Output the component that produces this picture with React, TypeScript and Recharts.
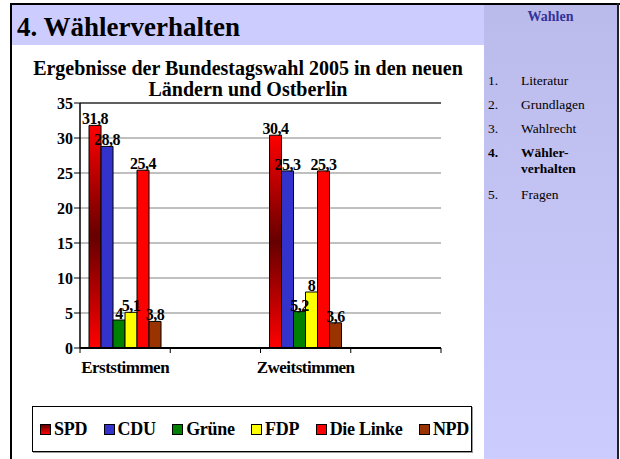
import React from 'react';
import { BarChart, Bar, XAxis, YAxis, CartesianGrid, LabelList, ReferenceLine } from 'recharts';

const categories = ['Erststimmen', '', 'Zweitstimmen', ''];
const parties = ['SPD', 'CDU', 'Grüne', 'FDP', 'Die Linke', 'NPD'];
const partyColors = ['url(#spdGrad)', '#3333CC', '#008000', '#FFFF00', '#FF0000', '#993300'];
const erststimmen = [31.8, 28.8, 4, 5.1, 25.4, 3.8];
const zweitstimmen = [30.4, 25.3, 5.2, 8, 25.3, 3.6];
const yTicks = [0, 5, 10, 15, 20, 25, 30, 35];
const slideTitle = '4. Wählerverhalten';
const chartTitle = ['Ergebnisse der Bundestagswahl 2005 in den neuen', 'Ländern und Ostberlin'];
const sideTitle = 'Wahlen';
const navItems = [
  { n: '1.', t: ['Literatur'], bold: false },
  { n: '2.', t: ['Grundlagen'], bold: false },
  { n: '3.', t: ['Wahlrecht'], bold: false },
  { n: '4.', t: ['Wähler-', 'verhalten'], bold: true },
  { n: '5.', t: ['Fragen'], bold: false },
];

const data = categories.map((c, i) => {
  const row: any = { name: c };
  const vals = i === 0 ? erststimmen : i === 2 ? zweitstimmen : null;
  parties.forEach((p, j) => {
    row['p' + j] = vals ? vals[j] : null;
  });
  return row;
});

const FONT = 'Liberation Serif';
const PLOT_L = 80;
const PLOT_R = 441;
const PLOT_T = 103;
const PLOT_B = 348;
const BAND = (PLOT_R - PLOT_L) / categories.length;

const XTick = (props: any) => {
  const { x, y, payload, index } = props;
  return (
    <g>
      <line x1={x - BAND / 2} x2={x - BAND / 2} y1={y} y2={y + 5} stroke="#000" strokeWidth={1} />
      {index === categories.length - 1 && (
        <line x1={x + BAND / 2} x2={x + BAND / 2} y1={y} y2={y + 5} stroke="#000" strokeWidth={1} />
      )}
      <text x={x} y={y + 25} textAnchor="middle" fontFamily={FONT} fontWeight="bold" fontSize={17} letterSpacing={-0.5} fill="#000">
        {payload.value}
      </text>
    </g>
  );
};

const fmt = (v: any) => (v === null || v === undefined ? '' : String(v).replace('.', ','));

export default function App() {
  return (
    <div style={{ position: 'absolute', left: 0, top: 0, width: 620, height: 459, background: '#fff', fontFamily: FONT, overflow: 'hidden' }}>
      {/* header bar */}
      <div style={{ position: 'absolute', left: 12, top: 5, width: 472, height: 40, background: '#CCCCFF' }} />
      {/* sidebar */}
      <div style={{ position: 'absolute', left: 484, top: 5, width: 133, height: 454, background: 'linear-gradient(#BBBBEB, #CCCCFF)' }} />
      {/* frame */}
      <div style={{ position: 'absolute', left: 10, top: 3, width: 610, height: 2, background: '#000' }} />
      <div style={{ position: 'absolute', left: 10, top: 3, width: 2, height: 456, background: '#000' }} />
      <div style={{ position: 'absolute', left: 617, top: 3, width: 2, height: 456, background: '#222' }} />

      <div style={{ position: 'absolute', left: 17, top: 11, fontSize: 27, lineHeight: '32px', fontWeight: 'bold', color: '#000', whiteSpace: 'nowrap' }}>{slideTitle}</div>
      <div style={{ position: 'absolute', left: 484, width: 133, top: 9, textAlign: 'center', fontSize: 14, fontWeight: 'bold', color: '#333399' }}>{sideTitle}</div>
      <div style={{ position: 'absolute', left: 488, top: 73, fontSize: 13.5, color: '#000' }}>
        {navItems.map((it, i) => (
          <div key={i} style={{ display: 'flex', marginBottom: it.t.length > 1 ? 10 : 8, fontWeight: it.bold ? 'bold' : 'normal', lineHeight: '16px' }}>
            <div style={{ width: 33 }}>{it.n}</div>
            <div>{it.t.map((s, k) => <div key={k}>{s}</div>)}</div>
          </div>
        ))}
      </div>

      <div style={{ position: 'absolute', left: 12, width: 472, top: 58, textAlign: 'center', fontSize: 20, fontWeight: 'bold', color: '#000', lineHeight: '21px', whiteSpace: 'nowrap' }}>
        {chartTitle.map((s, i) => <div key={i}>{s}</div>)}
      </div>

      <div style={{ position: 'absolute', left: 0, top: 0 }}>
        <BarChart
          width={620}
          height={459}
          data={data}
          margin={{ left: PLOT_L - 40, top: PLOT_T, right: 620 - PLOT_R, bottom: 459 - PLOT_B - 30 }}
          barCategoryGap="10%"
          barGap={0}
        >
          <defs>
            <linearGradient id="spdGrad" x1="0" y1="0" x2="0" y2="1">
              <stop offset="0%" stopColor="#FF0000" />
              <stop offset="50%" stopColor="#660000" />
              <stop offset="100%" stopColor="#FF0000" />
            </linearGradient>
          </defs>
          <CartesianGrid vertical={false} stroke="#808080" strokeWidth={1} />
          <XAxis
            dataKey="name"
            height={30}
            interval={0}
            tickSize={0}
            tickMargin={0}
            tickLine={false}
            axisLine={{ stroke: '#000', strokeWidth: 2 }}
            tick={<XTick />}
          />
          <YAxis
            width={40}
            domain={[0, 35]}
            ticks={yTicks}
            interval={0}
            tickSize={6}
            tickMargin={1}
            tickLine={{ stroke: '#000' }}
            axisLine={{ stroke: '#000', strokeWidth: 1.5 }}
            tick={{ fontFamily: FONT, fontWeight: 'bold', fontSize: 16, fill: '#000' }}
          />
          <YAxis
            yAxisId="right"
            orientation="right"
            width={0}
            domain={[0, 35]}
            tick={false}
            tickLine={false}
            axisLine={{ stroke: '#000', strokeWidth: 1 }}
          />
          <ReferenceLine y={35} stroke="#000" strokeWidth={1} />
          {parties.map((p, j) => (
            <Bar key={p} dataKey={'p' + j} name={p} fill={partyColors[j]} stroke="#000" strokeWidth={1} isAnimationActive={false}>
              <LabelList
                dataKey={'p' + j}
                position="top"
                offset={1}
                formatter={fmt}
                style={{ fontFamily: FONT, fontWeight: 'bold', fontSize: 16, letterSpacing: -0.5, fill: '#000' }}
              />
            </Bar>
          ))}
        </BarChart>
      </div>

      {/* legend */}
      <div style={{ position: 'absolute', left: 32, top: 406, width: 440, height: 46, border: '1px solid #000', boxShadow: '1px 1px 0 #999', display: 'flex', alignItems: 'center', justifyContent: 'space-between', padding: '0 2px 0 7px', boxSizing: 'border-box' }}>
        {parties.map((p, j) => (
          <div key={p} style={{ display: 'flex', alignItems: 'center', fontSize: 18, fontWeight: 'bold', letterSpacing: -0.3, whiteSpace: 'nowrap' }}>
            <div style={{ width: 9, height: 9, border: '1px solid #000', marginRight: 3, background: j === 0 ? 'linear-gradient(#660000, #FF0000)' : partyColors[j] }} />
            {p}
          </div>
        ))}
      </div>
    </div>
  );
}
